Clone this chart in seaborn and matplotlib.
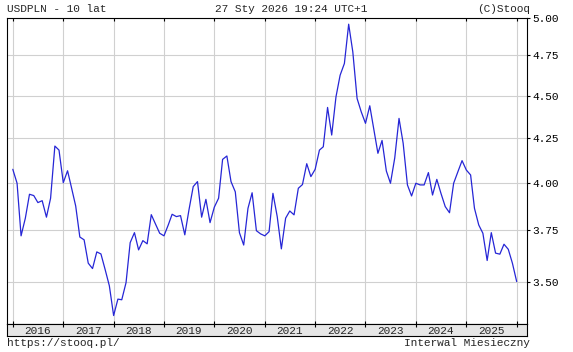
import matplotlib
matplotlib.use("Agg")
import matplotlib.pyplot as plt
import matplotlib.dates as mdates
import matplotlib.transforms as mtransforms
from matplotlib.ticker import FixedLocator, FixedFormatter, NullLocator
import pandas as pd
import seaborn as sns

sns.set_style("white")
plt.rcParams['font.family'] = ['Liberation Mono', 'DejaVu Sans Mono']
plt.rcParams['font.size'] = 8

# monthly closes, Jan 2016 .. Jan 2026
months = pd.date_range("2016-01-01", periods=121, freq="MS")
usdpln = [
    4.073, 3.997, 3.723, 3.813, 3.938, 3.931, 3.894, 3.904, 3.818, 3.917, 4.203, 4.180,
    4.000, 4.065, 3.975, 3.876, 3.717, 3.703, 3.588, 3.562, 3.643, 3.633, 3.556, 3.480,
    3.343, 3.418, 3.415, 3.495, 3.689, 3.739, 3.653, 3.699, 3.683, 3.831, 3.782, 3.736,
    3.723, 3.778, 3.833, 3.821, 3.826, 3.728, 3.855, 3.979, 4.006, 3.818, 3.911, 3.790,
    3.870, 3.917, 4.128, 4.147, 4.006, 3.951, 3.739, 3.677, 3.864, 3.946, 3.749, 3.733,
    3.723, 3.744, 3.943, 3.821, 3.658, 3.813, 3.850, 3.830, 3.970, 3.990, 4.104, 4.033,
    4.073, 4.180, 4.199, 4.428, 4.266, 4.492, 4.625, 4.699, 4.955, 4.773, 4.482, 4.402,
    4.334, 4.438, 4.305, 4.162, 4.235, 4.064, 3.997, 4.136, 4.363, 4.219, 3.988, 3.929,
    3.997, 3.988, 3.988, 4.055, 3.934, 4.018, 3.943, 3.873, 3.841, 3.997, 4.060, 4.121,
    4.069, 4.042, 3.864, 3.778, 3.736, 3.601, 3.739, 3.637, 3.632, 3.681, 3.656, 3.588,
    3.500,
]
y_ticks = [3.50, 3.75, 4.00, 4.25, 4.50, 4.75, 5.00]
y_labels = ["3.50", "3.75", "4.00", "4.25", "4.50", "4.75", "5.00"]
years = list(range(2016, 2026))

W, H = 573, 352


def px_rect(x0, y0, x1, y1):
    return [x0 / W, 1 - y1 / H, (x1 - x0) / W, (y1 - y0) / H]


fig = plt.figure(figsize=(W / 100, H / 100), dpi=100)
ax = fig.add_axes(px_rect(7, 17.5, 527.3, 324))
band = fig.add_axes(px_rect(7, 324, 527.3, 336))

df = pd.DataFrame({"Data": months, "Kurs": usdpln})
sns.lineplot(data=df, x="Data", y="Kurs", ax=ax, color="#2626d6", linewidth=0.9)

x_lo, x_hi = pd.Timestamp("2015-11-20"), pd.Timestamp("2026-03-19")
ax.set_yscale("log")
ax.set_ylim(3.305, 5.0)
ax.set_xlim(x_lo, x_hi)
ax.set_xlabel("")
ax.set_ylabel("")

ax.yaxis.tick_right()
ax.yaxis.set_major_locator(FixedLocator(y_ticks))
ax.yaxis.set_major_formatter(FixedFormatter(y_labels))
ax.yaxis.set_minor_locator(NullLocator())
ax.tick_params(axis="y", which="major", direction="out", length=2.2, width=0.8,
               pad=1.2, labelsize=8, right=True, left=False, colors="black")
ax.xaxis.set_major_locator(mdates.YearLocator())
ax.tick_params(axis="x", which="major", direction="in", length=2.4, width=0.8,
               top=True, bottom=True, labelbottom=False, colors="black")
ax.grid(True, color="#d0d0d0", linewidth=0.8)
for s in ax.spines.values():
    s.set_color("black")
    s.set_linewidth(0.8)

# year band under the plot
band.set_facecolor("#e6e6e6")
band.set_xlim(mdates.date2num(x_lo), mdates.date2num(x_hi))
band.set_ylim(0, 1)
band.set_yticks([])
band.xaxis.set_major_locator(mdates.YearLocator())
band.tick_params(axis="x", which="major", direction="in", length=2.0, width=0.8,
                 top=True, bottom=False, labelbottom=False, colors="black")
for s in band.spines.values():
    s.set_color("black")
    s.set_linewidth(0.8)
trans = mtransforms.blended_transform_factory(band.transData, band.transAxes)
for y in years:
    band.text(mdates.date2num(pd.Timestamp(f"{y}-07-01")), 0.45, str(y),
              transform=trans, ha="center", va="center", fontsize=8)

fig.text(7 / W, 1 - 11.7 / H, "USDPLN - 10 lat", ha="left", va="baseline")
fig.text(291 / W, 1 - 11.7 / H, "27 Sty 2026 19:24 UTC+1", ha="center", va="baseline")
fig.text(530 / W, 1 - 11.7 / H, "(C)Stooq", ha="right", va="baseline")
fig.text(7 / W, 1 - 346.5 / H, "https://stooq.pl/", ha="left", va="baseline")
fig.text(530 / W, 1 - 346.5 / H, "Interwal Miesieczny", ha="right", va="baseline")

fig.savefig("out.png", dpi=100)
